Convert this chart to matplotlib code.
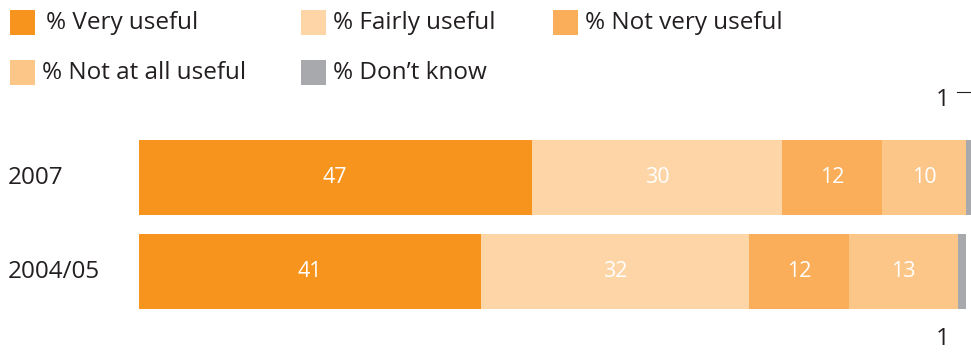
import matplotlib
matplotlib.use("Agg")
import matplotlib.pyplot as plt
from matplotlib.patches import Rectangle

plt.rcParams['font.family'] = ['Open Sans', 'DejaVu Sans']

years = ['2007', '2004/05']
categories = ['% Very useful', '% Fairly useful', '% Not very useful',
              '% Not at all useful', '% Don\u2019t know']
very_useful = [47, 41]
fairly_useful = [30, 32]
not_very_useful = [12, 12]
not_at_all_useful = [10, 13]
dont_know = [1, 1]

colors = ['#F7941D', '#FDD5A7', '#FBAE5A', '#FDC689', '#A7A9AC']
text_color = '#231F20'

W, H = 971, 353
fig = plt.figure(figsize=(W / 100, H / 100), dpi=100)


def px(x, y):
    """convert pixel position (top-left origin) to figure fraction"""
    return x / W, 1 - y / H


# legend drawn by hand so it sits where the original does
legend_pos = [(10, 10), (301, 10), (553, 10), (10, 60), (301, 60)]
for (lx, ly), label, c in zip(legend_pos, categories, colors):
    fx, fy = px(lx, ly + 25)
    fig.patches.append(Rectangle((fx, fy), 25 / W, 25 / H, transform=fig.transFigure,
                                 facecolor=c, edgecolor='none'))
    tx, ty = px(lx + 32 if label != categories[0] else lx + 36, ly + 13)
    fig.text(tx, ty, label, fontsize=17.5, color=text_color, va='center', ha='left')

# bar area
left, right, top, bottom = 139, 971, 120, 330
ax = fig.add_axes([left / W, 1 - bottom / H, (right - left) / W, (bottom - top) / H])

series = [very_useful, fairly_useful, not_very_useful, not_at_all_useful, dont_know]
ypos = [0, 1]
starts = [0, 0]
for vals, c in zip(series, colors):
    bars = ax.barh(ypos, vals, left=starts, height=0.8, color=c, edgecolor='none')
    if vals is not dont_know:
        for b, v in zip(bars, vals):
            ax.text(b.get_x() + b.get_width() / 2, b.get_y() + b.get_height() / 2, str(v),
                    color='white', fontsize=15.5, ha='center', va='center')
    starts = [s + v for s, v in zip(starts, vals)]

ax.set_xlim(0, 99.6)
ax.set_ylim(1.62, -0.61)
ax.axis('off')

# year labels
for y, yr in zip([177.5, 271.5], years):
    fx, fy = px(8, y)
    fig.text(fx, fy, yr, fontsize=17.5, color=text_color, va='center', ha='left')

# small "don't know" labels
fx, fy = px(943, 100)
fig.text(fx, fy, str(dont_know[0]), fontsize=17.5, color=text_color, va='center', ha='center')
fig.add_artist(plt.Line2D([957 / W, 971 / W], [1 - 92 / H, 1 - 92 / H],
                          transform=fig.transFigure, color=text_color, lw=0.8))
fx, fy = px(943, 339)
fig.text(fx, fy, str(dont_know[1]), fontsize=17.5, color=text_color, va='center', ha='center')

fig.savefig('out.png', dpi=100, facecolor='white')
